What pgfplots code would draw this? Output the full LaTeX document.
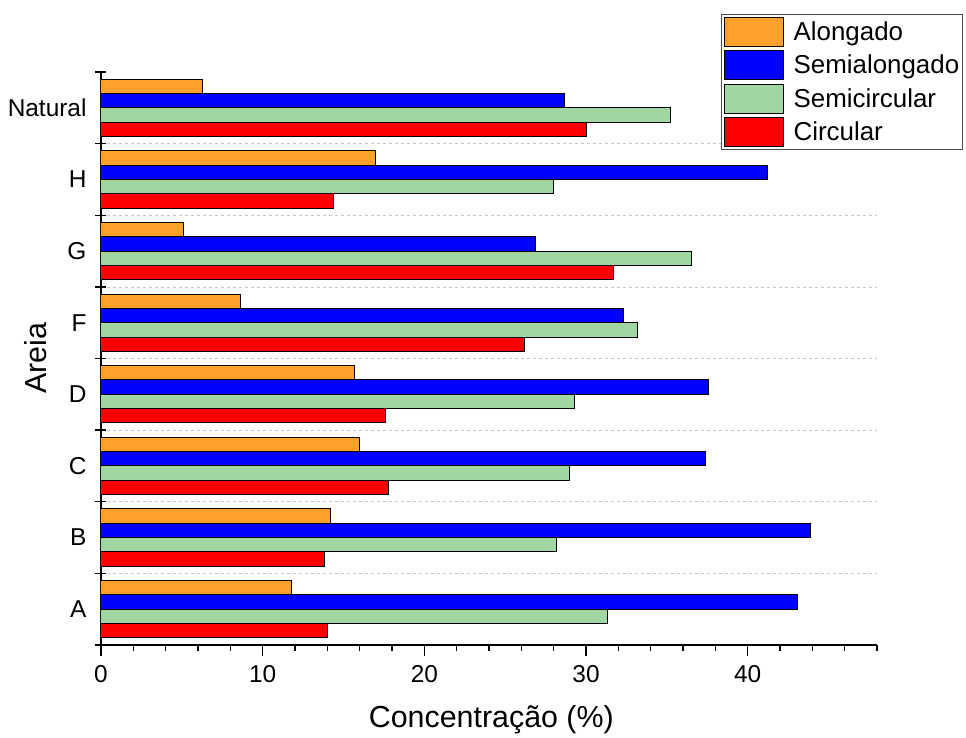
\documentclass[border=0pt]{standalone}
\usepackage{pgfplots}
\pgfplotsset{compat=1.18}
\usepackage{fontspec}
\setmainfont{Liberation Sans}
\definecolor{cOr}{RGB}{255,160,42}
\definecolor{cBl}{RGB}{0,0,255}
\definecolor{cGr}{RGB}{160,215,160}
\definecolor{cRd}{RGB}{255,0,0}
\begin{document}
\begin{tikzpicture}
\begin{axis}[
  name=ax,
  scale only axis,
  width=776bp, height=573bp,
  xbar, bar width=0.2,
  xmin=0, xmax=48, ymin=0.5, ymax=8.5,
  axis x line*=bottom, axis y line*=left,
  tick align=outside,
  axis line style={line width=1.4bp},
  every tick/.append style={black, line width=1.4bp},
  major tick length=11bp, minor tick length=6bp,
  xtick={0,10,20,30,40}, minor xtick={2,4,6,8,12,14,16,18,22,24,26,28,32,34,36,38,42,44,46,48},
  ytick={1,...,8},
  yticklabels={A,B,C,D,F,G,H,Natural},
  ytick style={draw=none},
  minor ytick={1.5,2.5,...,7.5},
  minor y tick style={draw=none},
  yminorgrids=true,
  minor grid style={gray!45, dash pattern=on 3bp off 3bp, line width=0.6bp},
  extra y ticks={0.5,1.5,...,8.5},
  extra y tick labels={},
  extra y tick style={grid=none, ytick style={draw=black, line width=1.4bp, xshift=5.5bp}},
  /pgf/number format/assume math mode=true,
  tick label style={font=\fontsize{24.5}{28}\selectfont},
  xticklabel style={yshift=-6bp},
  xlabel={Concentração (\%)},
  ylabel={Areia},
  xlabel style={font=\fontsize{30.5}{34}\selectfont, at={(axis description cs:0.503,-0.13)}, anchor=center},
  ylabel style={font=\fontsize{30.5}{34}\selectfont, at={(axis description cs:-0.084,0.5)}, anchor=center},
  legend style={at={(axis description cs:1.111,1.101)}, anchor=north east,
    draw=black!70, line width=0.8bp, font=\fontsize{26}{30}\selectfont,
    cells={anchor=west}, inner sep=2bp, row sep=3.5bp,
    nodes={inner ysep=0bp, inner xsep=1.5bp}},
  legend image code/.code={\draw[#1, line width=1bp] (0bp,-14.5bp) rectangle (59bp,14.5bp); \path[draw=none, fill=none] (0bp,0bp) -- (68bp,0bp);},
  every axis plot/.append style={draw=black, line width=1bp},
]
\addplot[fill=cOr, bar shift=0.3] coordinates {(11.8,1) (14.2,2) (16.0,3) (15.7,4) (8.6,5) (5.1,6) (17.0,7) (6.3,8)};
\addlegendentry{Alongado}
\addplot[fill=cBl, bar shift=0.1] coordinates {(43.1,1) (43.9,2) (37.4,3) (37.6,4) (32.3,5) (26.9,6) (41.2,7) (28.7,8)};
\addlegendentry{Semialongado}
\addplot[fill=cGr, bar shift=-0.1] coordinates {(31.3,1) (28.2,2) (29.0,3) (29.3,4) (33.2,5) (36.5,6) (28.0,7) (35.2,8)};
\addlegendentry{Semicircular}
\addplot[fill=cRd, bar shift=-0.3] coordinates {(14.0,1) (13.8,2) (17.8,3) (17.6,4) (26.2,5) (31.7,6) (14.4,7) (30.0,8)};
\addlegendentry{Circular}
\end{axis}
\path (ax.south west) ++(-101bp,-91bp) rectangle ++(966bp,736bp);
\end{tikzpicture}
\end{document}
